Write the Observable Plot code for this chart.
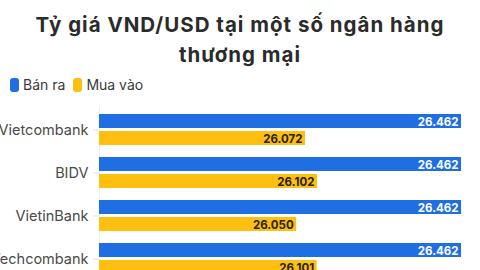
<!DOCTYPE html>
<html>
<head>
<meta charset="utf-8">
<script src="https://cdn.jsdelivr.net/npm/d3@7"></script>
<script src="https://cdn.jsdelivr.net/npm/@observablehq/plot@0.6"></script>
<style>
  html, body { margin: 0; padding: 0; background: #fff; width: 480px; height: 270px; overflow: hidden; }
  body { font-family: Inter, "Noto Sans", sans-serif; position: relative; }
  #title { position: absolute; left: 0; top: 10px; width: 480px; text-align: center; font-weight: 700; font-size: 20.5px; line-height: 30px; color: #2b2b2b; letter-spacing: 1px; }
  #legend { position: absolute; left: 10px; top: 76px; display: flex; align-items: center; font-size: 14px; color: #3a3a3a; }
  #legend .sw { display: inline-block; width: 9px; height: 14px; border-radius: 3px; margin-right: 4px; }
  #legend .it { display: flex; align-items: center; margin-right: 8px; }
  #chart { position: absolute; left: 0; top: 100px; }
</style>
</head>
<body>
<div id="title">Tỷ giá VND/USD tại một số ngân hàng<br>thương mại</div>
<div id="legend"></div>
<div id="chart"></div>
<script>
const banks = ["Vietcombank", "BIDV", "VietinBank", "Techcombank"];
const series = ["Bán ra", "Mua vào"];
const banRa = [26462, 26462, 26462, 26462];
const muaVao = [26072, 26102, 26050, 26101];
const colors = ["#1f6fe2", "#fdbf10"];

const data = [];
banks.forEach((b, i) => {
  data.push({bank: b, series: series[0], value: banRa[i]});
  data.push({bank: b, series: series[1], value: muaVao[i]});
});

const fmt = d3.formatLocale({decimal: ",", thousands: ".", grouping: [3], currency: ["", ""]}).format(",");

const legend = document.getElementById("legend");
series.forEach((s, i) => {
  const it = document.createElement("span");
  it.className = "it";
  it.innerHTML = `<span class="sw" style="background:${colors[i]}"></span>${s}`;
  legend.appendChild(it);
});

const xMin = 25557;
const plot = Plot.plot({
  width: 480,
  height: 200,
  marginLeft: 99,
  marginRight: 13,
  marginTop: 13,
  marginBottom: 26,
  style: {fontFamily: "Inter, 'Noto Sans', sans-serif", overflow: "visible"},
  x: {domain: [xMin, 26477], axis: null},
  fy: {domain: banks, paddingInner: 0.285, paddingOuter: 0, label: null},
  y: {domain: series, paddingInner: 0.18, paddingOuter: 0, axis: null},
  color: {domain: series, range: colors},
  marks: [
    Plot.axisFy({anchor: "left", tickSize: 6, tickPadding: 5, fontSize: 14.5, color: "#4a4a4a", stroke: "#e2e2e2", label: null, style: {letterSpacing: "0.2px"}}),
    Plot.ruleX([xMin], {stroke: "#eeeeee", insetTop: -7, insetBottom: -7}),
    Plot.barX(data, {fy: "bank", y: "series", x1: xMin, x2: "value", fill: "series"}),
    Plot.text(data, {
      fy: "bank", y: "series", x: "value", text: d => fmt(d.value),
      textAnchor: "end", dx: -3, dy: 0.5,
      fill: d => d.series === series[0] ? "#ffffff" : "#2a1e00",
      fontWeight: 700, fontSize: 11.5
    })
  ]
});
document.getElementById("chart").appendChild(plot);
</script>
</body>
</html>
